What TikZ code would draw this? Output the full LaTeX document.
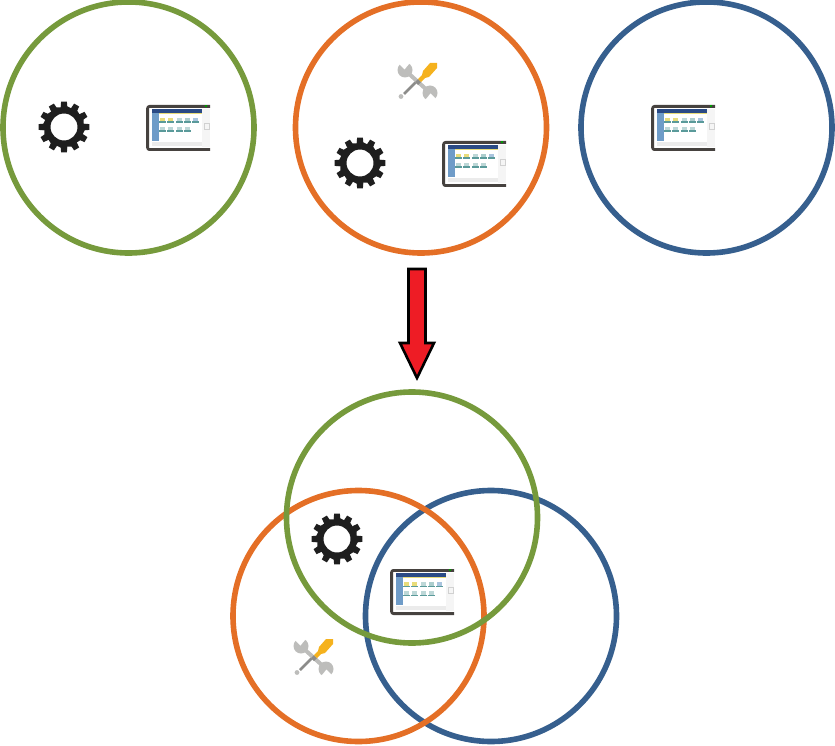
\documentclass[tikz,border=0pt]{standalone}
\definecolor{cgreen}{HTML}{769A3C}
\definecolor{corange}{HTML}{E46F26}
\definecolor{cblue}{HTML}{365F8E}
\definecolor{gearc}{HTML}{1E1E1E}
\definecolor{framec}{HTML}{46423F}
\definecolor{scrblue}{HTML}{6F9CC8}
\definecolor{scrnavy}{HTML}{2A4A85}
\definecolor{scrteal}{HTML}{5A9A9A}
\definecolor{scryel}{HTML}{E8DC7A}
\definecolor{toolg}{HTML}{BDBDBB}
\definecolor{toold}{HTML}{8C8C8A}
\definecolor{tooly}{HTML}{F5B21E}
\definecolor{arrred}{HTML}{EE1C25}
\tikzset{
  ring/.style={circle,draw=#1,line width=5.6pt,minimum size=251pt,inner sep=0pt,outer sep=0pt},
  iconspot/.style={inner sep=0pt,minimum size=0pt},
  gear/.pic={
    \fill[gearc,even odd rule]
      (0:21)
      \foreach \k in {0,...,11}{
        -- ({\k*30-9}:21) -- ({\k*30-6.5}:25.5) -- ({\k*30+6.5}:25.5) -- ({\k*30+9}:21) -- ({\k*30+21}:20) -- ({\k*30+30-9}:21)
      } -- cycle
      (0,0) circle (13.5);
  },
  screen/.pic={
    \fill[white] (-32,-23) rectangle (32,23);
    \fill[black!4] (24,-19) rectangle (32,19);
    \draw[black!18,line width=.6pt] (26,-5) rectangle (31,1);
    \fill[white] (-26,-19) rectangle (24,18);
    \fill[scrnavy] (-26,-19) rectangle (24,-15);
    \fill[scryel] (-19,-15) rectangle (24,-14);
    \fill[scrblue] (-26,-15) rectangle (-19,13);
    \fill[black!8] (-26,14) rectangle (24,18);
    \foreach \c/\t in {-16/scryel,-8/scryel,1/scrteal!40,9/scrteal!50,17/scrblue!60}{
      \fill[\t] (\c-2.5,-10) rectangle (\c+2.5,-6.5);
      \fill[scrteal] (\c-3.5,-6.5) rectangle (\c+3.5,-5);
    }
    \foreach \c in {-16,-8,1,9}{
      \fill[scrteal!40] (\c-2.5,-1) rectangle (\c+2.5,2.5);
      \fill[scrteal] (\c-3.5,2.5) rectangle (\c+3.5,4);
    }
    \draw[framec,line width=2.8pt,rounded corners=2pt]
      (32,-21.6) -- (-30.4,-21.6) -- (-30.4,21.6) -- (32,21.6);
    \fill[green!60!black] (27,-23) rectangle (28.5,-21);
  },
  tools/.pic={
    % screwdriver shaft
    \draw[toold,line width=2.6pt] (-13,13) -- (0,0);
    \fill[toolg] (-16,15.5) circle (2.4);
    % spanner
    \draw[toolg,line width=4pt] (-10,-9) -- (11,10);
    \fill[toolg] (-12,-11) circle (7.5);
    \fill[toolg] (13,12) circle (7.5);
    \fill[white] (-12.5,-11.5) -- (-6,-19.5) -- (-20,-19) -- cycle;
    \fill[white] (13.5,12.5) -- (7,20.5) -- (21,20) -- cycle;
    % handle
    \fill[toold] (-2,1) -- (1,4) -- (4,1) -- (1,-2) -- cycle;
    \fill[tooly] (1,-2) -- (4,1) -- (8,-3) -- (12,-4) -- (20,-13) -- (20,-18) -- (13,-18) -- (6,-10) -- (5,-6) -- cycle;
  }
}
\begin{document}
\begin{tikzpicture}[x=1pt,y=-1pt]
\useasboundingbox (0,0) rectangle (835,746);
% top row
\node[ring=cgreen] (topgreen) at (128.5,127.5) {};
\node[ring=corange] (toporange) at (421,127.5) {};
\node[ring=cblue] (topblue) at (706.5,127.5) {};
% bottom cluster
\node[ring=cblue] (botblue) at (491,616) {};
\node[ring=corange] (botorange) at (358.5,616) {};
\node[ring=cgreen] (botgreen) at (412,517.5) {};
% icons
\pic at (64,127) {gear};
\pic at (360,163) {gear};
\pic at (337,539) {gear};
\pic at (178,128) {screen};
\pic at (474,164) {screen};
\pic at (683,128) {screen};
\pic at (422,592) {screen};
\pic at (417,81) {tools};
\pic at (313,657) {tools};
% arrow
\node[iconspot] (arrowtop) at (417,269) {};
\node[iconspot] (arrowtip) at (417,378) {};
\draw[fill=arrred,draw=black,line width=2.6pt,miter limit=6]
  ([xshift=-8.5pt]arrowtop.center) -- ([xshift=8.5pt]arrowtop.center)
  -- ([xshift=8.5pt,yshift=-74pt]arrowtop.center) -- ([xshift=17pt,yshift=-74pt]arrowtop.center)
  -- (arrowtip.center) -- ([xshift=-17pt,yshift=-74pt]arrowtop.center)
  -- ([xshift=-8.5pt,yshift=-74pt]arrowtop.center) -- cycle;
\end{tikzpicture}
\end{document}
